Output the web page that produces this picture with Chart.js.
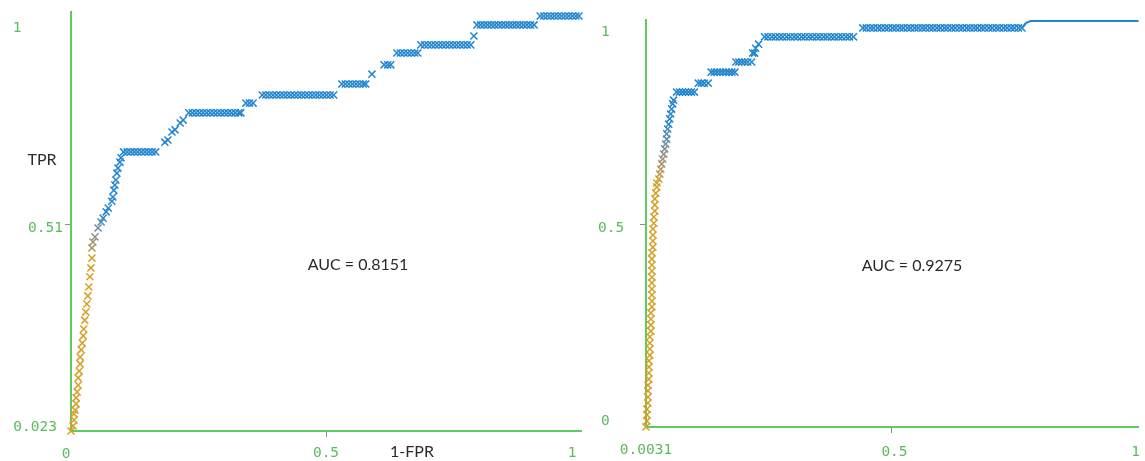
<!DOCTYPE html>
<html>
<head>
<meta charset="utf-8">
<script src="https://cdn.jsdelivr.net/npm/chart.js@4/dist/chart.umd.min.js"></script>
<style>
  html, body { margin: 0; padding: 0; background: #fff; width: 1145px; height: 461px; overflow: hidden; }
  canvas { position: absolute; top: 0; }
  #leftRoc { left: 0; }
  #rightRoc { left: 590px; }
</style>
</head>
<body>
<canvas id="leftRoc" width="590" height="461"></canvas>
<canvas id="rightRoc" width="555" height="461"></canvas>
<script>
// ---- ROC curve, first model ----
const leftFpr = [
  0.000, 0.004, 0.006, 0.006, 0.008, 0.010, 0.010, 0.012, 0.014, 0.014,
  0.016, 0.018, 0.018, 0.020, 0.022, 0.024, 0.025, 0.027, 0.029, 0.031,
  0.033, 0.035, 0.037, 0.039, 0.041, 0.041, 0.043, 0.047, 0.053, 0.059,
  0.063, 0.069, 0.073, 0.080, 0.082, 0.084, 0.086, 0.088, 0.090, 0.092,
  0.096, 0.098,
  0.103, 0.110, 0.117, 0.124, 0.131, 0.138, 0.145, 0.152, 0.159, 0.166,
  0.184, 0.190, 0.198, 0.204, 0.214, 0.220,
  0.231, 0.238, 0.245, 0.252, 0.259, 0.266, 0.273, 0.280, 0.287, 0.294,
  0.301, 0.308, 0.315, 0.322, 0.329, 0.333,
  0.343, 0.350, 0.357,
  0.375, 0.382, 0.389, 0.396, 0.403, 0.410, 0.417, 0.424, 0.431, 0.438,
  0.445, 0.452, 0.459, 0.466, 0.473, 0.480, 0.487, 0.494, 0.501, 0.508, 0.515,
  0.531, 0.538, 0.545, 0.552, 0.559, 0.566, 0.573, 0.578,
  0.590,
  0.614, 0.621, 0.627,
  0.639, 0.646, 0.653, 0.660, 0.667, 0.674, 0.680,
  0.686, 0.693, 0.700, 0.707, 0.714, 0.721, 0.728, 0.735, 0.742, 0.749,
  0.756, 0.763, 0.770, 0.777, 0.784,
  0.790,
  0.796, 0.803, 0.810, 0.817, 0.824, 0.831, 0.838, 0.845, 0.852, 0.859,
  0.866, 0.873, 0.880, 0.887, 0.894, 0.901, 0.908,
  0.920, 0.927, 0.934, 0.941, 0.948, 0.955, 0.962, 0.969, 0.976, 0.983, 0.990, 0.996
];
const leftTpr = [
  0.023, 0.035, 0.049, 0.063, 0.072, 0.087, 0.101, 0.115, 0.131, 0.148,
  0.164, 0.181, 0.197, 0.214, 0.230, 0.247, 0.263, 0.284, 0.303, 0.322,
  0.341, 0.362, 0.386, 0.407, 0.430, 0.454, 0.468, 0.480, 0.501, 0.515,
  0.524, 0.539, 0.548, 0.564, 0.574, 0.590, 0.602, 0.614, 0.630, 0.642,
  0.656, 0.666,
  0.680, 0.680, 0.680, 0.680, 0.680, 0.680, 0.680, 0.680, 0.680, 0.680,
  0.703, 0.708, 0.727, 0.732, 0.748, 0.755,
  0.772, 0.772, 0.772, 0.772, 0.772, 0.772, 0.772, 0.772, 0.772, 0.772,
  0.772, 0.772, 0.772, 0.772, 0.772, 0.772,
  0.795, 0.795, 0.795,
  0.814, 0.814, 0.814, 0.814, 0.814, 0.814, 0.814, 0.814, 0.814, 0.814,
  0.814, 0.814, 0.814, 0.814, 0.814, 0.814, 0.814, 0.814, 0.814, 0.814, 0.814,
  0.840, 0.840, 0.840, 0.840, 0.840, 0.840, 0.840, 0.840,
  0.863,
  0.885, 0.885, 0.885,
  0.913, 0.913, 0.913, 0.913, 0.913, 0.913, 0.913,
  0.932, 0.932, 0.932, 0.932, 0.932, 0.932, 0.932, 0.932, 0.932, 0.932,
  0.932, 0.932, 0.932, 0.932, 0.932,
  0.953,
  0.979, 0.979, 0.979, 0.979, 0.979, 0.979, 0.979, 0.979, 0.979, 0.979,
  0.979, 0.979, 0.979, 0.979, 0.979, 0.979, 0.979,
  1.000, 1.000, 1.000, 1.000, 1.000, 1.000, 1.000, 1.000, 1.000, 1.000, 1.000, 1.000
];
const leftAuc = 'AUC = 0.8151';

// ---- ROC curve, second model ----
const rightFpr = [
  0.003, 0.005, 0.005, 0.005, 0.007, 0.007, 0.007, 0.007, 0.009, 0.009,
  0.009, 0.009, 0.011, 0.011, 0.011, 0.011, 0.013, 0.013, 0.013, 0.013,
  0.015, 0.015, 0.015, 0.015, 0.015, 0.015, 0.015, 0.015, 0.015, 0.015,
  0.017, 0.017, 0.017, 0.017, 0.019, 0.019, 0.021, 0.021, 0.021, 0.023,
  0.025, 0.025, 0.029, 0.031, 0.033, 0.035, 0.037, 0.039, 0.041, 0.043,
  0.045, 0.045, 0.047, 0.049, 0.051, 0.053, 0.055, 0.057, 0.059,
  0.065, 0.071, 0.077, 0.083, 0.089, 0.095, 0.101,
  0.109, 0.115, 0.121, 0.129,
  0.135, 0.141, 0.147, 0.153, 0.159, 0.165, 0.171, 0.177, 0.183,
  0.185, 0.191, 0.197, 0.203, 0.209, 0.217,
  0.219, 0.223,
  0.225, 0.231,
  0.243, 0.250, 0.258, 0.265, 0.273, 0.280, 0.288, 0.295, 0.303, 0.310,
  0.318, 0.325, 0.333, 0.340, 0.348, 0.355, 0.363, 0.370, 0.378, 0.385,
  0.393, 0.400, 0.408, 0.415, 0.423,
  0.442, 0.449, 0.457, 0.464, 0.472, 0.479, 0.487, 0.494, 0.502, 0.509,
  0.517, 0.524, 0.532, 0.539, 0.547, 0.554, 0.562, 0.569, 0.577, 0.584,
  0.592, 0.599, 0.607, 0.614, 0.622, 0.629, 0.637, 0.644, 0.652, 0.659,
  0.667, 0.674, 0.682, 0.689, 0.697, 0.704, 0.712, 0.719, 0.727, 0.734,
  0.742, 0.749, 0.757, 0.764
];
const rightTpr = [
  0.000, 0.015, 0.030, 0.044, 0.059, 0.074, 0.089, 0.103, 0.118, 0.133,
  0.148, 0.163, 0.177, 0.192, 0.207, 0.222, 0.236, 0.251, 0.266, 0.281,
  0.296, 0.310, 0.325, 0.340, 0.355, 0.369, 0.384, 0.399, 0.414, 0.429,
  0.443, 0.458, 0.473, 0.488, 0.502, 0.517, 0.532, 0.547, 0.562, 0.576,
  0.591, 0.601, 0.611, 0.623, 0.635, 0.648, 0.660, 0.672, 0.685, 0.697,
  0.709, 0.722, 0.734, 0.746, 0.759, 0.771, 0.783, 0.796, 0.805,
  0.825, 0.825, 0.825, 0.825, 0.825, 0.825, 0.825,
  0.847, 0.847, 0.847, 0.847,
  0.874, 0.874, 0.874, 0.874, 0.874, 0.874, 0.874, 0.874, 0.874,
  0.899, 0.899, 0.899, 0.899, 0.899, 0.899,
  0.921, 0.921,
  0.933, 0.943,
  0.961, 0.961, 0.961, 0.961, 0.961, 0.961, 0.961, 0.961, 0.961, 0.961,
  0.961, 0.961, 0.961, 0.961, 0.961, 0.961, 0.961, 0.961, 0.961, 0.961,
  0.961, 0.961, 0.961, 0.961, 0.961,
  0.983, 0.983, 0.983, 0.983, 0.983, 0.983, 0.983, 0.983, 0.983, 0.983,
  0.983, 0.983, 0.983, 0.983, 0.983, 0.983, 0.983, 0.983, 0.983, 0.983,
  0.983, 0.983, 0.983, 0.983, 0.983, 0.983, 0.983, 0.983, 0.983, 0.983,
  0.983, 0.983, 0.983, 0.983, 0.983, 0.983, 0.983, 0.983, 0.983, 0.983,
  0.983, 0.983, 0.983, 0.983
];
// final stretch of the second curve, drawn as a plain line
const rightTailFpr = [0.764, 0.772, 0.781, 1.000];
const rightTailTpr = [0.983, 0.995, 1.000, 1.000];
const rightAuc = 'AUC = 0.9275';

// ---- axis ticks ----
const leftYTicks = [0.023, 0.51, 1];
const leftYTickText = ['0.023', '0.51', '1'];
const leftXTicks = [0, 0.5, 1];
const leftXTickText = ['0', '0.5', '1'];
const rightYTicks = [0, 0.5, 1];
const rightYTickText = ['0', '0.5', '1'];
const rightXTicks = [0.0031, 0.5, 1];
const rightXTickText = ['0.0031', '0.5', '1'];

// ---- styling ----
const AXIS_COLOR = '#62c962';
const TICK_COLOR = '#5cbb5c';
const TICK_FONT = '14.5px "DejaVu Sans Mono", monospace';
const TEXT_FONT = '16px Lato, "Open Sans", sans-serif';
const GOLD = [214, 160, 38];
const GREY = [138, 142, 150];
const BLUE = [34, 134, 208];

function mix(a, b, t) {
  return a.map((c, i) => Math.round(c + (b[i] - c) * t));
}
// threshold colouring: gold for low TPR, through grey, to blue for high TPR
function rampColor(v, lo, hi) {
  let t = (v - lo) / (hi - lo);
  t = Math.max(0, Math.min(1, t));
  const c = t < 0.5 ? mix(GOLD, GREY, t * 2) : mix(GREY, BLUE, (t - 0.5) * 2);
  return `rgb(${c[0]},${c[1]},${c[2]})`;
}

function toPoints(xs, ys) {
  return xs.map((x, i) => ({ x: x, y: ys[i] }));
}

// draws the tick marks, tick labels and captions of one panel
const panelText = {
  id: 'panelText',
  afterDatasetsDraw(chart, args, o) {
    const ctx = chart.ctx;
    const xs = chart.scales.x, ys = chart.scales.y;
    ctx.save();
    ctx.strokeStyle = '#8c8c8c';
    ctx.lineWidth = 1;
    o.yMarks.forEach(v => {
      const p = Math.round(ys.getPixelForValue(v)) + 0.5;
      ctx.beginPath(); ctx.moveTo(xs.left - 6, p); ctx.lineTo(xs.left - 1, p); ctx.stroke();
    });
    o.xMarks.forEach(v => {
      const p = Math.round(xs.getPixelForValue(v)) + 0.5;
      ctx.beginPath(); ctx.moveTo(p, ys.bottom + 1); ctx.lineTo(p, ys.bottom + 6); ctx.stroke();
    });

    ctx.font = TICK_FONT;
    ctx.fillStyle = TICK_COLOR;
    ctx.textBaseline = 'middle';
    o.yValues.forEach((v, i) => {
      const pl = o.yPlace[i];
      ctx.textAlign = pl[2];
      ctx.fillText(o.yText[i], xs.left + pl[0], ys.getPixelForValue(v) + pl[1]);
    });
    ctx.textAlign = 'center';
    o.xValues.forEach((v, i) => {
      const pl = o.xPlace[i];
      ctx.fillText(o.xText[i], xs.getPixelForValue(v) + pl[0], ys.bottom + pl[1]);
    });

    ctx.font = TEXT_FONT;
    ctx.fillStyle = '#2a2a2a';
    ctx.textAlign = 'center';
    o.notes.forEach(n => ctx.fillText(n.text, n.x, n.y));
    ctx.restore();
  }
};

function makePanel(id, cfg) {
  const axis = (min, max, horizontal) => ({
    type: 'linear',
    min: min,
    max: max,
    ticks: { display: false },
    grid: { display: false, drawTicks: false },
    border: { display: true, color: AXIS_COLOR, width: 2 },
    afterFit: s => { if (horizontal) { s.height = 0; } else { s.width = 0; } }
  });
  return new Chart(document.getElementById(id), {
    type: 'scatter',
    data: { datasets: cfg.datasets },
    options: {
      responsive: false,
      animation: false,
      events: [],
      layout: { padding: cfg.padding },
      plugins: { legend: { display: false }, tooltip: { enabled: false }, panelText: cfg.text },
      scales: { x: axis(cfg.xMin, cfg.xMax, true), y: axis(cfg.yMin, cfg.yMax, false) }
    },
    plugins: [panelText]
  });
}

const markStyle = (lo, hi) => ({
  pointStyle: 'crossRot',
  pointRadius: 5,
  borderWidth: 1.5,
  borderColor: c => rampColor(c.raw ? c.raw.y : 0, lo, hi),
  showLine: false,
  clip: false
});

makePanel('leftRoc', {
  padding: { left: 71, right: 9, top: 12, bottom: 30 },
  xMin: 0, xMax: 1, yMin: 0.023, yMax: 1.0094,
  datasets: [Object.assign({ data: toPoints(leftFpr, leftTpr) }, markStyle(0.43, 0.54))],
  text: {
    yMarks: [0.51], xMarks: [0.5],
    yValues: leftYTicks, yText: leftYTickText,
    yPlace: [[-14, -4, 'right'], [-8, 4, 'right'], [-54, 12, 'center']],
    xValues: leftXTicks, xText: leftXTickText,
    xPlace: [[-5, 23], [0, 22], [-9, 22]],
    notes: [
      { text: 'TPR', x: 42, y: 160 },
      { text: '1-FPR', x: 412, y: 452 },
      { text: leftAuc, x: 358, y: 265 }
    ]
  }
});

makePanel('rightRoc', {
  padding: { left: 56, right: 0, top: 20, bottom: 34 },
  xMin: 0.0031, xMax: 1, yMin: 0, yMax: 1.0025,
  datasets: [
    Object.assign({ data: toPoints(rightFpr, rightTpr) }, markStyle(0.60, 0.76)),
    {
      data: toPoints(rightTailFpr, rightTailTpr),
      showLine: true,
      borderColor: 'rgb(34,134,208)',
      borderWidth: 2,
      pointRadius: 0,
      tension: 0,
      clip: false
    }
  ],
  text: {
    yMarks: [0.5], xMarks: [0.5],
    yValues: rightYTicks, yText: rightYTickText,
    yPlace: [[-45, -6, 'left'], [-48, 4, 'left'], [-45, 11, 'left']],
    xValues: rightXTicks, xText: rightXTickText,
    xPlace: [[0, 23], [3, 25], [-3, 25]],
    notes: [
      { text: rightAuc, x: 322, y: 266 }
    ]
  }
});
</script>
</body>
</html>
